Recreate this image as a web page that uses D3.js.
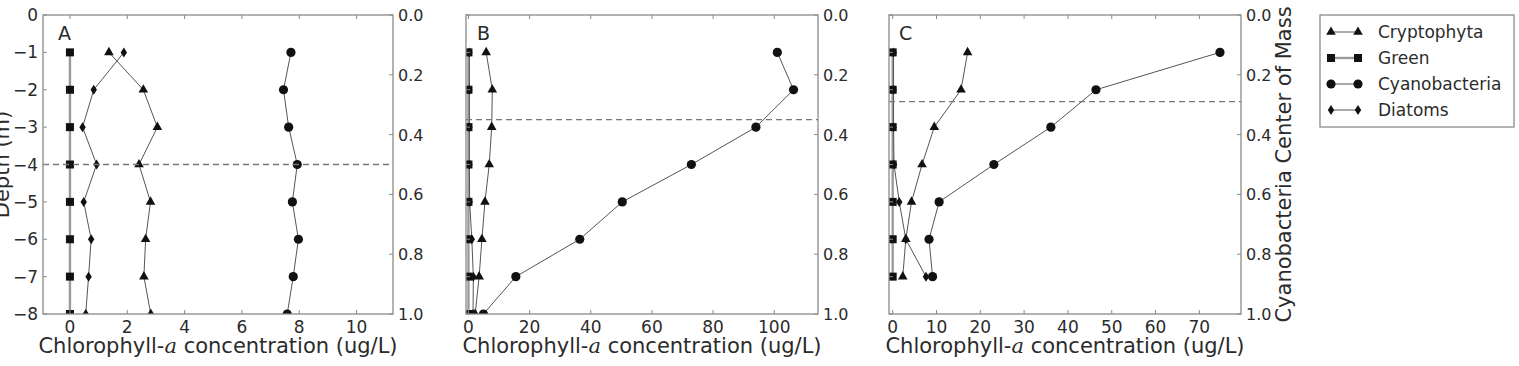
<!DOCTYPE html>
<html>
<head>
<meta charset="utf-8">
<script src="https://cdn.jsdelivr.net/npm/d3@7"></script>
<style>
  body { margin: 0; background: #fff; }
  text { font-family: "DejaVu Sans", sans-serif; fill: #2b2b2b; }
</style>
</head>
<body>
<svg id="chart" width="1519" height="366"></svg>
<script>
// depths (m)
var depthsAB = [-1, -2, -3, -4, -5, -6, -7, -8];
var depthsC = [-1, -2, -3, -4, -5, -6, -7];

// panel A
var cryptoA = [1.36, 2.56, 3.05, 2.41, 2.81, 2.64, 2.58, 2.82];
var greenA  = [0, 0, 0, 0, 0, 0, 0, 0];
var cyanoA  = [7.71, 7.45, 7.63, 7.93, 7.76, 7.97, 7.79, 7.58];
var diatomA = [1.88, 0.83, 0.44, 0.93, 0.48, 0.74, 0.65, 0.55];

// panel B
var cryptoB = [5.8, 7.8, 7.6, 6.8, 5.4, 4.4, 3.5, 2.2];
var greenB  = [0, 0, 0, 0, 0, 0, 0, 0];
var cyanoB  = [101.0, 106.3, 94.0, 72.9, 50.3, 36.4, 15.5, 4.9];
var diatomB = [0.3, 0.3, 0.3, 0.3, 0.4, 1.1, 1.6, 1.5];

// panel C
var cryptoC = [17.1, 15.6, 9.5, 6.7, 4.3, 3.0, 2.3];
var greenC  = [0, 0, 0, 0, 0, 0, 0];
var cyanoC  = [74.7, 46.4, 36.1, 23.1, 10.6, 8.3, 9.1];
var diatomC = [0.2, 0.2, 0.2, 0.3, 1.5, 3.0, 7.6];

// center of mass (right axis)
var centerOfMass = [0.5, 0.35, 0.29];

var seriesNames = ["Cryptophyta", "Green", "Cyanobacteria", "Diatoms"];
var xTicksA = [0, 2, 4, 6, 8, 10];
var xTicksB = [0, 20, 40, 60, 80, 100];
var xTicksC = [0, 10, 20, 30, 40, 50, 60, 70];
var leftTicks = [0, -1, -2, -3, -4, -5, -6, -7, -8];
var rightTicks = [0, 0.2, 0.4, 0.6, 0.8, 1.0];

var svg = d3.select("svg#chart");
var top_ = 15, bottom = 314;
var spine = "#8a8a8a";

var panels = [
  {name: "A", left: 43, right: 393, xdom: [-0.94, 11.27], ticks: xTicksA, depths: depthsAB,
   data: [cryptoA, greenA, cyanoA, diatomA], com: centerOfMass[0], lx: 15, leftLabels: true},
  {name: "B", left: 466, right: 818, xdom: [-0.8, 114.3], ticks: xTicksB, depths: depthsAB,
   data: [cryptoB, greenB, cyanoB, diatomB], com: centerOfMass[1], lx: 11, leftLabels: false},
  {name: "C", left: 889, right: 1241, xdom: [-0.84, 79.5], ticks: xTicksC, depths: depthsC,
   data: [cryptoC, greenC, cyanoC, diatomC], com: centerOfMass[2], lx: 10, leftLabels: false}
];

var y = d3.scaleLinear().domain([-8, 0]).range([bottom, top_]);
var y2 = d3.scaleLinear().domain([0, 1]).range([top_, bottom]);

// marker shapes
function marker(sel, kind) {
  if (kind === 0) {
    sel.append("path").attr("d", d3.symbol(d3.symbolTriangle, 40)());
  } else if (kind === 1) {
    sel.append("rect").attr("x", -4).attr("y", -4).attr("width", 8).attr("height", 8);
  } else if (kind === 2) {
    sel.append("circle").attr("r", 4.6);
  } else {
    sel.append("path").attr("d", "M0,-5L3.2,0L0,5L-3.2,0Z");
  }
}

function fmtMinus(v) { return String(v).replace("-", "\u2212"); }

panels.forEach(function(p, pi) {
  var x = d3.scaleLinear().domain(p.xdom).range([p.left, p.right]);
  var g = svg.append("g");

  var clipId = "clip" + pi;
  svg.append("clipPath").attr("id", clipId)
    .append("rect").attr("x", p.left).attr("y", top_)
    .attr("width", p.right - p.left).attr("height", bottom - top_);

  var plot = g.append("g").attr("clip-path", "url(#" + clipId + ")");

  // series lines
  p.data.forEach(function(vals, si) {
    var pts = vals.map(function(v, i) { return [v, p.depths[i]]; });
    var line = d3.line().x(function(d) { return x(d[0]); }).y(function(d) { return y(d[1]); });
    plot.append("path").datum(pts)
      .attr("d", line)
      .attr("fill", "none")
      .attr("stroke", si === 1 ? "#9a9a9a" : "#555")
      .attr("stroke-width", si === 1 ? 2.4 : 1);
  });

  // markers
  p.data.forEach(function(vals, si) {
    vals.forEach(function(v, i) {
      var m = plot.append("g")
        .attr("transform", "translate(" + x(v) + "," + y(p.depths[i]) + ")")
        .attr("fill", "#111");
      marker(m, si);
    });
  });

  // center of mass dashed line
  plot.append("line")
    .attr("x1", p.left).attr("x2", p.right)
    .attr("y1", y2(p.com)).attr("y2", y2(p.com))
    .attr("stroke", "#777").attr("stroke-width", 1.3)
    .attr("stroke-dasharray", "6,4");

  // frame
  g.append("rect").attr("x", p.left).attr("y", top_)
    .attr("width", p.right - p.left).attr("height", bottom - top_)
    .attr("fill", "none").attr("stroke", spine).attr("stroke-width", 1.3);

  // bottom / top ticks
  p.ticks.forEach(function(t) {
    g.append("line").attr("x1", x(t)).attr("x2", x(t)).attr("y1", bottom).attr("y2", bottom - 4)
      .attr("stroke", spine);
    g.append("line").attr("x1", x(t)).attr("x2", x(t)).attr("y1", top_).attr("y2", top_ + 4)
      .attr("stroke", spine);
    g.append("text").attr("x", x(t)).attr("y", 333)
      .attr("text-anchor", "middle").attr("font-size", 17).text(t);
  });

  // left ticks
  leftTicks.forEach(function(t) {
    g.append("line").attr("x1", p.left).attr("x2", p.left + 4).attr("y1", y(t)).attr("y2", y(t))
      .attr("stroke", spine);
    if (p.leftLabels) {
      g.append("text").attr("x", p.left - 5).attr("y", y(t) + 6)
        .attr("text-anchor", "end").attr("font-size", 17).text(fmtMinus(t));
    }
  });

  // right axis
  rightTicks.forEach(function(t) {
    g.append("line").attr("x1", p.right).attr("x2", p.right - 4).attr("y1", y2(t)).attr("y2", y2(t))
      .attr("stroke", spine);
    g.append("text").attr("x", p.right + 5).attr("y", y2(t) + 6)
      .attr("font-size", 16).text(t.toFixed(1));
  });

  // panel letter
  g.append("text").attr("x", p.left + p.lx).attr("y", 40)
    .attr("font-size", 19).text(p.name);

  // x axis title
  var title = g.append("text").attr("x", (p.left + p.right) / 2).attr("y", 353)
    .attr("text-anchor", "middle").attr("font-size", 21);
  title.append("tspan").text("Chlorophyll-");
  title.append("tspan").attr("font-family", "DejaVu Serif, serif").attr("font-style", "italic").text("a");
  title.append("tspan").text(" concentration (ug/L)");
});

// y axis titles
svg.append("text")
  .attr("transform", "translate(9," + (top_ + bottom) / 2 + ") rotate(-90)")
  .attr("text-anchor", "middle").attr("font-size", 21).text("Depth (m)");
svg.append("text")
  .attr("transform", "translate(1291," + (top_ + bottom) / 2 + ") rotate(-90)")
  .attr("text-anchor", "middle").attr("font-size", 21).text("Cyanobacteria Center of Mass");

// legend
var leg = svg.append("g");
leg.append("rect").attr("x", 1320).attr("y", 15).attr("width", 194).attr("height", 112)
  .attr("fill", "#fff").attr("stroke", spine).attr("stroke-width", 1.3);
seriesNames.forEach(function(name, i) {
  var ly = 32 + i * 26;
  leg.append("line").attr("x1", 1331).attr("x2", 1358).attr("y1", ly).attr("y2", ly)
    .attr("stroke", i === 1 ? "#9a9a9a" : "#555").attr("stroke-width", i === 1 ? 2.4 : 1);
  [1331, 1358].forEach(function(mx) {
    var m = leg.append("g").attr("transform", "translate(" + mx + "," + ly + ")").attr("fill", "#111");
    marker(m, i);
  });
  leg.append("text").attr("x", 1378).attr("y", ly + 6).attr("font-size", 17).text(name);
});
</script>
</body>
</html>
